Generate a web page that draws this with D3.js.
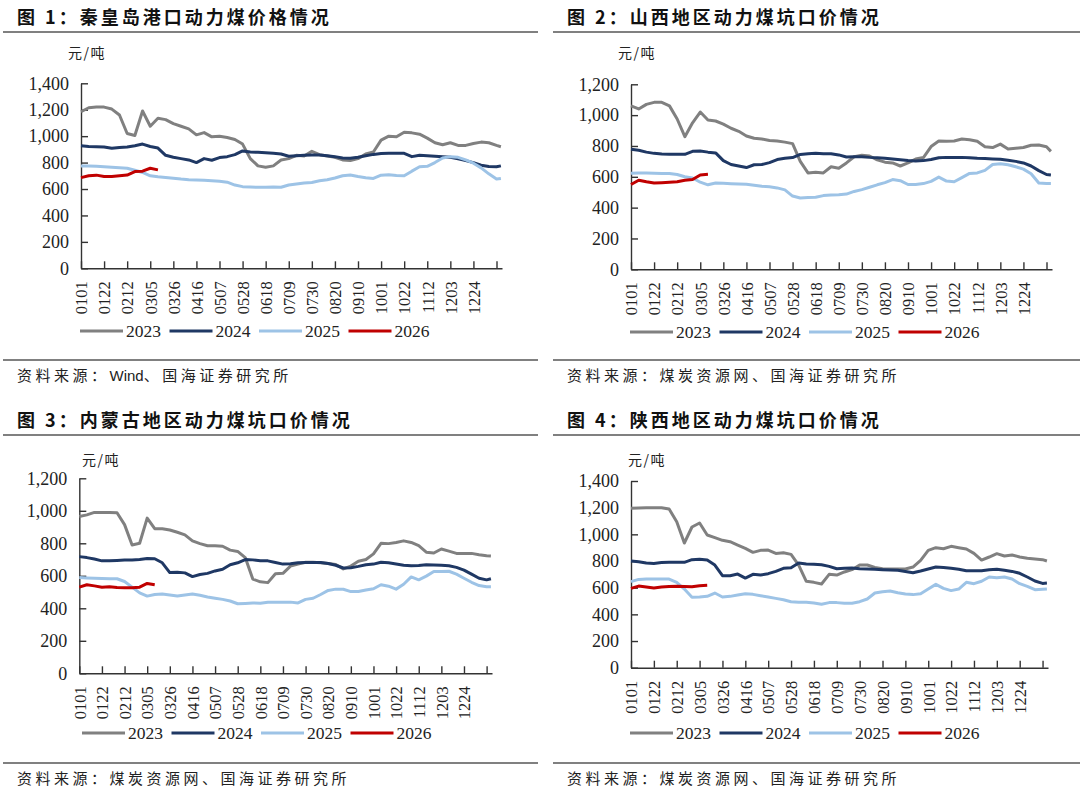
<!DOCTYPE html>
<html>
<head>
<meta charset="utf-8">
<script src="https://cdn.jsdelivr.net/npm/d3@7"></script>
<style>
  body { margin: 0; background: #fff; }
  svg { display: block; }
</style>
</head>
<body>
<div id="chart-area"></div>
<script>
// x axis: day index from 0101, one point a week plus the last day
var dayIdx = d3.range(0, 379, 7).concat([382]);
var tickLabels = ["0101", "0122", "0212", "0305", "0326", "0416", "0507", "0528", "0618",
                  "0709", "0730", "0820", "0910", "1001", "1022", "1112", "1203", "1224"];
var years = ["2023", "2024", "2025", "2026"];

// 图1 秦皇岛港口动力煤价格
var qhd2023 = [1185,1215,1220,1220,1205,1160,1020,1005,1190,1075,
               1135,1125,1095,1075,1055,1010,1027,995,1000,990,
               975,940,830,775,765,775,820,830,855,850,
               885,860,850,840,820,815,830,865,880,970,
               1000,995,1030,1025,1015,985,950,935,950,930,
               930,945,955,950,930,920];
var qhd2024 = [928,922,920,918,908,915,918,928,940,922,
               910,855,840,830,820,800,830,818,838,845,
               860,888,880,878,875,870,865,848,852,855,
               858,858,852,845,835,832,840,852,862,868,
               870,870,870,845,855,852,848,845,840,828,
               815,800,780,770,768,775];
var qhd2025 = [775,775,772,768,764,760,757,742,725,700,
               692,688,682,675,670,668,666,663,658,652,
               630,618,615,613,613,615,613,630,638,645,
               650,662,670,683,700,706,695,686,680,705,
               708,703,700,735,768,772,800,835,845,840,
               820,795,760,715,675,680];
var qhd2026 = [686,700,705,695,695,700,706,732,735,757,745];

// 图2 山西地区动力煤坑口价
var sx2023 = [1060,1040,1070,1083,1083,1060,975,860,950,1020,
              968,962,942,915,895,865,850,845,835,832,
              825,815,700,625,630,625,665,655,690,730,
              740,735,710,695,690,670,690,715,725,796,
              832,830,832,845,840,830,795,790,812,780,
              785,790,805,806,795,765];
var sx2024 = [778,772,760,752,748,746,746,746,765,767,
              760,755,705,680,670,660,678,680,692,712,
              720,725,745,750,752,750,750,742,728,730,
              730,726,724,720,715,710,705,703,705,712,
              724,726,726,726,724,720,718,716,714,708,
              700,690,670,640,615,612];
var sx2025 = [623,625,624,623,622,622,615,600,592,565,
              548,560,558,555,553,551,545,538,535,528,
              515,475,462,465,467,478,482,484,488,505,
              517,532,548,562,582,575,550,550,556,570,
              598,572,568,595,622,625,642,680,685,678,
              665,650,620,560,557,557];
var sx2026 = [550,578,568,560,562,565,568,578,582,612,616];

// 图3 内蒙古地区动力煤坑口价
var nm2023 = [965,975,990,990,990,988,915,790,800,955,
              890,890,882,868,852,815,798,785,785,782,
              758,750,712,580,563,558,612,615,660,672,
              683,683,680,675,670,642,660,690,700,735,
              800,798,805,815,805,785,745,740,765,752,
              738,738,738,730,724,722];
var nm2024 = [718,712,703,692,692,694,697,697,700,706,
              705,680,620,622,618,595,608,615,630,640,
              668,680,700,698,692,692,682,672,674,680,
              682,682,682,676,665,648,650,658,668,672,
              683,680,672,665,662,664,668,667,665,662,
              652,635,610,585,575,582];
var nm2025 = [589,587,585,584,582,582,565,530,495,475,
              485,488,482,476,482,488,480,470,462,455,
              445,428,430,433,431,437,437,437,438,433,
              455,462,485,510,518,517,503,503,513,520,
              545,536,518,548,593,575,598,626,626,628,
              610,585,560,540,533,533];
var nm2026 = [530,545,538,530,533,528,527,527,530,553,545];

// 图4 陕西地区动力煤坑口价
var snx2023 = [1195,1198,1200,1200,1200,1190,1095,935,1055,1085,
               995,975,955,945,920,895,865,880,882,857,
               862,850,770,648,640,628,700,695,718,735,
               770,770,752,742,740,740,740,755,805,880,
               900,892,910,900,890,857,807,830,855,838,
               845,830,820,815,810,800];
var snx2024 = [800,795,785,782,788,790,790,790,810,813,
               808,770,690,690,702,672,700,695,705,722,
               745,750,785,778,775,772,760,742,745,748,
               742,740,738,735,733,730,722,712,725,740,
               755,752,745,738,727,727,727,735,738,730,
               722,708,680,650,632,635];
var snx2025 = [645,662,665,665,665,665,640,590,528,530,
               535,560,530,535,545,555,550,540,530,520,
               510,495,490,490,485,476,488,488,484,484,
               495,515,560,570,575,562,552,548,555,590,
               625,595,578,590,640,630,648,680,675,680,
               665,630,610,585,588,590];
var snx2026 = [595,612,605,598,605,608,610,608,607,615,618];

var colors = ["#808080", "#1f3864", "#9dc3e6", "#c00000"];
var serif = "'Times New Roman', 'Liberation Serif', serif";
var cjk = "'Noto Sans CJK SC', 'Noto Sans', sans-serif";

var panels = [
  { title: "图 1：秦皇岛港口动力煤价格情况", source: ["资料来源：", "Wind", "、国海证券研究所"],
    series: [qhd2023, qhd2024, qhd2025, qhd2026], yMax: 1400,
    ox: 0, oy: 0, left: 81, right: 502, top: 83.3, bottom: 268.3,
    unitX: 68, unitY: 58, legX: 80, legY: 331 },
  { title: "图 2：山西地区动力煤坑口价情况", source: ["资料来源：煤炭资源网、国海证券研究所"],
    series: [sx2023, sx2024, sx2025, sx2026], yMax: 1200,
    ox: 550, oy: 0, left: 631, right: 1052, top: 84.3, bottom: 269.3,
    unitX: 618, unitY: 58, legX: 630, legY: 332 },
  { title: "图 3：内蒙古地区动力煤坑口价情况", source: ["资料来源：煤炭资源网、国海证券研究所"],
    series: [nm2023, nm2024, nm2025, nm2026], yMax: 1200,
    ox: 0, oy: 403, left: 79.3, right: 492, top: 478.3, bottom: 673.3,
    unitX: 82, unitY: 465, legX: 82, legY: 733 },
  { title: "图 4：陕西地区动力煤坑口价情况", source: ["资料来源：煤炭资源网、国海证券研究所"],
    series: [snx2023, snx2024, snx2025, snx2026], yMax: 1400,
    ox: 550, oy: 403, left: 631, right: 1048, top: 481, bottom: 667.7,
    unitX: 628, unitY: 465, legX: 630, legY: 733 }
];

var svg = d3.select("#chart-area").append("svg")
  .attr("width", 1080)
  .attr("height", 792);

panels.forEach(function(p) {
  // title and rules
  svg.append("text")
    .attr("x", p.ox + 17).attr("y", p.oy + 24)
    .style("font-family", cjk).style("font-size", "18px").style("font-weight", "bold")
    .style("letter-spacing", "3px").attr("fill", "#111")
    .text(p.title);
  svg.append("line")
    .attr("x1", p.ox + 3).attr("x2", p.ox + 538)
    .attr("y1", p.oy + 32).attr("y2", p.oy + 32)
    .attr("stroke", "#808080").attr("stroke-width", 2);
  svg.append("line")
    .attr("x1", p.ox + 3).attr("x2", p.ox + 538)
    .attr("y1", p.oy + 360).attr("y2", p.oy + 360)
    .attr("stroke", "#808080").attr("stroke-width", 2);
  var src = svg.append("text")
    .attr("x", p.ox + 17).attr("y", p.oy + 381)
    .style("font-family", cjk).style("font-size", "15px").attr("fill", "#222");
  src.selectAll("tspan").data(p.source).enter().append("tspan")
    .style("letter-spacing", function(d) { return /^[A-Za-z]+$/.test(d) ? "0px" : "3.5px"; })
    .style("font-family", function(d) { return /^[A-Za-z]+$/.test(d) ? "Arial, 'Liberation Sans', sans-serif" : cjk; })
    .text(function(d) { return d; });

  // unit
  svg.append("text")
    .attr("x", p.unitX).attr("y", p.unitY)
    .style("font-family", cjk).style("font-size", "14px")
    .style("letter-spacing", "1.5px").attr("fill", "#222")
    .text("元/吨");

  var x = d3.scaleLinear().domain([0, 383]).range([p.left, p.right]);
  var y = d3.scaleLinear().domain([0, p.yMax]).range([p.bottom, p.top]);

  var yAxis = d3.axisLeft(y)
    .tickValues(d3.range(0, p.yMax + 1, 200))
    .tickSize(-7).tickSizeOuter(0).tickPadding(12)
    .tickFormat(d3.format(","));
  var gy = svg.append("g").attr("transform", "translate(" + p.left + ",0)").call(yAxis);
  gy.selectAll("text").style("font-family", serif).style("font-size", "18px").attr("fill", "#222");

  var xAxis = d3.axisBottom(x)
    .tickValues(d3.range(0, 379, 21))
    .tickSize(-7).tickSizeOuter(0)
    .tickFormat(function(d, i) { return tickLabels[i] || ""; });
  var gx = svg.append("g").attr("transform", "translate(0," + p.bottom + ")").call(xAxis);
  gx.selectAll("text")
    .attr("transform", "rotate(-90)")
    .attr("text-anchor", "end")
    .attr("x", -13).attr("y", 0).attr("dy", "0.35em")
    .style("font-family", serif).style("font-size", "16.5px").attr("fill", "#222");

  [gx, gy].forEach(function(g) {
    g.select(".domain").attr("stroke", "#333").attr("stroke-width", 1.4);
    g.selectAll(".tick line").attr("stroke", "#333").attr("stroke-width", 1.4);
  });

  // lines
  var line = d3.line()
    .x(function(d, i) { return x(dayIdx[i]); })
    .y(function(d) { return y(d); });

  p.series.forEach(function(s, k) {
    svg.append("path")
      .datum(s)
      .attr("fill", "none")
      .attr("stroke", colors[k])
      .attr("stroke-width", 3)
      .attr("stroke-linejoin", "round")
      .attr("d", line);
  });

  // legend
  var leg = svg.selectAll(null).data(years).enter().append("g")
    .attr("transform", function(d, i) {
      return "translate(" + (p.legX + i * 89.5) + "," + p.legY + ")";
    });
  leg.append("line")
    .attr("x1", 0).attr("x2", 43)
    .attr("stroke", function(d, i) { return colors[i]; })
    .attr("stroke-width", 3);
  leg.append("text")
    .attr("x", 46).attr("dy", "0.35em")
    .style("font-family", serif).style("font-size", "17.5px").attr("fill", "#222")
    .text(function(d) { return d; });
});
</script>
</body>
</html>
